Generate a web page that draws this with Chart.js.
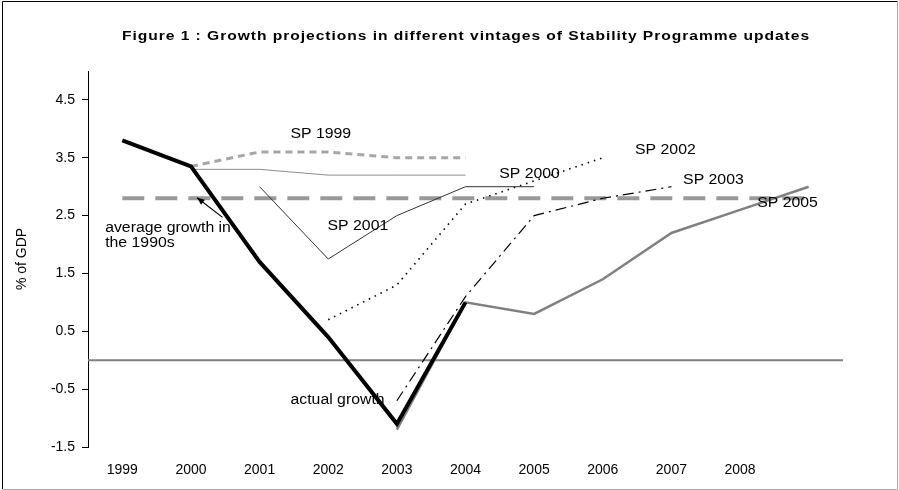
<!DOCTYPE html>
<html>
<head>
<meta charset="utf-8">
<script src="https://cdn.jsdelivr.net/npm/chart.js@4.4.1/dist/chart.umd.min.js"></script>
<style>
  html, body { margin: 0; padding: 0; background: #fff; }
</style>
</head>
<body>
<canvas id="myChart" width="899" height="490"></canvas>
<script>
"use strict";

const years = ["1999", "2000", "2001", "2002", "2003", "2004", "2005", "2006", "2007", "2008", ""];
const yTicks = [-1.5, -0.5, 0.5, 1.5, 2.5, 3.5, 4.5];

const actualGrowth = [3.8, 3.35, 1.7, 0.4, -1.1, 1.0, null, null, null, null, null];
const sp1999 = [null, 3.35, 3.6, 3.6, 3.5, 3.5, null, null, null, null, null];
const sp2000 = [null, 3.3, 3.3, 3.2, 3.2, 3.2, null, null, null, null, null];
const sp2001 = [null, null, 3.0, 1.75, 2.5, 3.0, 3.0, null, null, null, null];
const sp2002 = [null, null, null, 0.7, 1.3, 2.7, 3.1, 3.5, null, null, null];
const sp2003 = [null, null, null, null, -0.7, 1.1, 2.5, 2.8, 3.0, null, null];
const sp2005 = [null, null, null, null, -1.2, 1.0, 0.8, 1.4, 2.2, 2.6, 3.0];
const avg1990s = [2.8, 2.8, 2.8, 2.8, 2.8, 2.8, 2.8, 2.8, 2.8, 2.8, 2.8];

// text notes, placed in data units (category index, % of GDP)
const notes = [
  { text: "SP 1999", x: 2.45, y: 3.91 },
  { text: "SP 2000", x: 5.49, y: 3.22 },
  { text: "SP 2001", x: 2.99, y: 2.31 },
  { text: "SP 2002", x: 7.47, y: 3.64 },
  { text: "SP 2003", x: 8.17, y: 3.12 },
  { text: "SP 2005", x: 9.25, y: 2.72 },
  { text: "actual growth", x: 2.45, y: -0.69 },
  { text: "average growth in", x: -0.25, y: 2.29 },
  { text: "the 1990s", x: -0.25, y: 2.02 },
];
const arrowFrom = { x: 1.46, y: 2.47 };
const arrowTo = { x: 1.09, y: 2.81 };

const chartTitle = "Figure 1 : Growth projections in different vintages of Stability Programme updates";
const FONT = "'Liberation Sans', Arial, sans-serif";

const extras = {
  id: "extras",
  beforeDraw(chart) {
    const c = chart.ctx;
    c.save();
    c.fillStyle = "#fff";
    c.fillRect(0, 0, chart.width, chart.height);
    // frame
    c.lineWidth = 1;
    c.strokeStyle = "#000";
    c.beginPath();
    c.moveTo(2.5, 489);
    c.lineTo(2.5, 1.5);
    c.lineTo(897.5, 1.5);
    c.stroke();
    c.strokeStyle = "#aaa";
    c.beginPath();
    c.moveTo(897.5, 1.5);
    c.lineTo(897.5, 489.5);
    c.lineTo(2.5, 489.5);
    c.stroke();
    // title, stretched a little wider like the original
    c.fillStyle = "#000";
    c.font = "bold 13px " + FONT;
    c.letterSpacing = "0.8px";
    c.textAlign = "center";
    c.textBaseline = "middle";
    c.translate(466, 36);
    c.scale(1.2, 1);
    c.fillText(chartTitle, 0, 0);
    c.restore();
  },
  beforeDatasetsDraw(chart) {
    const c = chart.ctx;
    const a = chart.chartArea;
    const y0 = chart.scales.y.getPixelForValue(0);
    c.save();
    c.strokeStyle = "#808080";
    c.lineWidth = 2;
    c.beginPath();
    c.moveTo(a.left, y0);
    c.lineTo(a.right, y0);
    c.stroke();
    c.restore();
  },
  afterDatasetsDraw(chart) {
    const c = chart.ctx;
    const xs = chart.scales.x, ys = chart.scales.y;
    c.save();
    c.fillStyle = "#000";
    c.font = "14px " + FONT;
    c.textAlign = "left";
    c.textBaseline = "middle";
    notes.forEach((n) => {
      c.save();
      c.translate(xs.getPixelForValue(n.x), ys.getPixelForValue(n.y));
      c.scale(1.13, 1);
      c.fillText(n.text, 0, 0);
      c.restore();
    });
    // arrow
    const x1 = xs.getPixelForValue(arrowFrom.x), y1 = ys.getPixelForValue(arrowFrom.y);
    const x2 = xs.getPixelForValue(arrowTo.x), y2 = ys.getPixelForValue(arrowTo.y);
    c.strokeStyle = "#000";
    c.lineWidth = 1.2;
    c.beginPath();
    c.moveTo(x1, y1);
    c.lineTo(x2, y2);
    c.stroke();
    const ang = Math.atan2(y2 - y1, x2 - x1);
    c.beginPath();
    c.moveTo(x2, y2);
    c.lineTo(x2 - 8 * Math.cos(ang - 0.4), y2 - 8 * Math.sin(ang - 0.4));
    c.lineTo(x2 - 8 * Math.cos(ang + 0.4), y2 - 8 * Math.sin(ang + 0.4));
    c.closePath();
    c.fill();
    c.restore();
  },
};

const ctx = document.getElementById("myChart").getContext("2d");
const myChart = new Chart(ctx, {
  type: "line",
  data: {
    labels: years,
    datasets: [
      { label: "actual growth", data: actualGrowth, borderColor: "#000", borderWidth: 4, order: 0 },
      { label: "SP 1999", data: sp1999, borderColor: "#a6a6a6", borderWidth: 3, borderDash: [7, 5], order: 2 },
      { label: "SP 2000", data: sp2000, borderColor: "#8c8c8c", borderWidth: 1, order: 2 },
      { label: "SP 2001", data: sp2001, borderColor: "#333", borderWidth: 1, order: 2 },
      { label: "SP 2002", data: sp2002, borderColor: "#000", borderWidth: 1.6, borderDash: [1.5, 5], order: 2 },
      { label: "SP 2003", data: sp2003, borderColor: "#000", borderWidth: 1.2, borderDash: [11, 5, 2, 5], order: 2 },
      { label: "SP 2005", data: sp2005, borderColor: "#808080", borderWidth: 2.5, order: 1 },
      { label: "average growth in the 1990s", data: avg1990s, borderColor: "#999", borderWidth: 4, borderDash: [22, 11], order: 3 },
    ],
  },
  options: {
    responsive: false,
    animation: false,
    devicePixelRatio: 1,
    layout: { padding: { left: 0, top: 71, right: 56, bottom: 0 } },
    elements: {
      point: { radius: 0 },
      line: { tension: 0, borderCapStyle: "butt", borderJoinStyle: "miter" },
    },
    scales: {
      x: {
        type: "category",
        offset: true,
        grid: { display: false, drawTicks: false },
        border: { display: false },
        ticks: { color: "#000", font: { family: FONT, size: 14 }, padding: 15, maxRotation: 0, autoSkip: false },
        afterFit(scale) { scale.height = 43; },
      },
      y: {
        min: -1.5,
        max: 5,
        afterBuildTicks(scale) { scale.ticks = yTicks.map((v) => ({ value: v })); },
        grid: { drawOnChartArea: false, drawTicks: true, tickLength: 6, tickColor: "#000" },
        border: { display: true, color: "#000", width: 1 },
        ticks: { color: "#000", font: { family: FONT, size: 14 }, padding: 7, callback: (v) => v.toFixed(1) },
        title: { display: true, text: "% of GDP", color: "#000", font: { family: FONT, size: 14 }, padding: { top: 14, bottom: 0 } },
        afterFit(scale) { scale.width = 88; },
      },
    },
    plugins: {
      legend: { display: false },
      tooltip: { enabled: false },
    },
  },
  plugins: [extras],
});
</script>
</body>
</html>
